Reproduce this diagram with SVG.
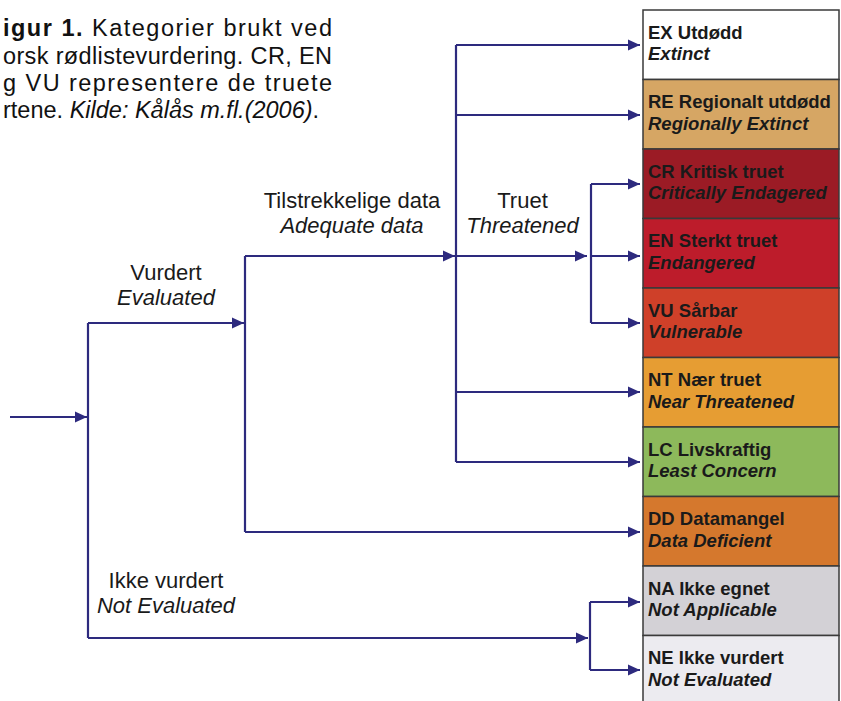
<svg xmlns="http://www.w3.org/2000/svg" width="841" height="701" viewBox="0 0 841 701">
<style>
.cap{font-family:"Liberation Sans",Arial,sans-serif;font-size:23.5px;fill:#111}
.lbl{font-family:"Liberation Sans",Arial,sans-serif;font-size:22px;fill:#1a1a1a;text-anchor:middle}
.it{font-style:italic}
.box{stroke:#3a3a3a;stroke-width:1.5}
.bt{font-family:"Liberation Sans",Arial,sans-serif;font-size:18.5px;font-weight:bold;fill:#1a1a1a}
.bi{font-style:italic}
.c{fill:none;stroke:#2d2a7e;stroke-width:2.2;marker-end:url(#ah)}
.l{fill:none;stroke:#2d2a7e;stroke-width:2.2}
</style>
<defs>
<marker id="ah" markerUnits="userSpaceOnUse" markerWidth="14" markerHeight="12" refX="12" refY="6" orient="auto">
<path d="M0,0.5 L12,6 L0,11.5 Z" fill="#2d2a7e"/>
</marker>
</defs>
<rect width="841" height="701" fill="#ffffff"/>
<g id="caption">
<text class="cap" x="3" y="36" textLength="329" lengthAdjust="spacing"><tspan font-weight="bold">igur 1.</tspan> Kategorier brukt ved</text>
<text class="cap" x="3" y="63.5" textLength="329" lengthAdjust="spacing">orsk rødlistevurdering. CR, EN</text>
<text class="cap" x="3" y="91" textLength="329" lengthAdjust="spacing">g VU representere de truete</text>
<text class="cap" x="3" y="118">rtene. <tspan class="it">Kilde: Kålås m.fl.(2006)</tspan>.</text>
</g>
<g id="connectors">
<path class="c" d="M10,417 H87"/>
<path class="l" d="M88,323 V638"/>
<path class="c" d="M88,323 H244"/>
<path class="c" d="M88,638 H588"/>
<path class="l" d="M245,256 V532"/>
<path class="c" d="M245,256 H455"/>
<path class="c" d="M245,532 H640"/>
<path class="l" d="M456,45 V462"/>
<path class="c" d="M456,45 H640"/>
<path class="c" d="M456,115 H640"/>
<path class="c" d="M456,256 H587"/>
<path class="c" d="M456,392 H640"/>
<path class="c" d="M456,462 H640"/>
<path class="l" d="M591,184 V323"/>
<path class="c" d="M591,184 H640"/>
<path class="c" d="M591,256 H640"/>
<path class="c" d="M591,323 H640"/>
<path class="l" d="M590,602 V670"/>
<path class="c" d="M590,602 H640"/>
<path class="c" d="M590,670 H640"/>
</g>
<g id="labels">
<text class="lbl" x="166" y="280">Vurdert</text>
<text class="lbl it" x="166" y="305">Evaluated</text>
<text class="lbl" x="352" y="207.5">Tilstrekkelige data</text>
<text class="lbl it" x="352" y="233">Adequate data</text>
<text class="lbl" x="522.5" y="208">Truet</text>
<text class="lbl it" x="522.5" y="233">Threatened</text>
<text class="lbl" x="166" y="588">Ikke vurdert</text>
<text class="lbl it" x="166" y="613">Not Evaluated</text>
</g>
<g id="EX">
<rect class="box" x="643" y="10" width="196" height="69.5" fill="#ffffff"/>
<text class="bt" x="648" y="38.5">EX Utdødd</text>
<text class="bt bi" x="648" y="60">Extinct</text>
</g>
<g id="RE">
<rect class="box" x="643" y="79.5" width="196" height="69.5" fill="#d6a664"/>
<text class="bt" x="648" y="108">RE Regionalt utdødd</text>
<text class="bt bi" x="648" y="129.5">Regionally Extinct</text>
</g>
<g id="CR">
<rect class="box" x="643" y="149" width="196" height="69.5" fill="#9b1b25"/>
<text class="bt" x="648" y="177.5">CR Kritisk truet</text>
<text class="bt bi" x="648" y="199">Critically Endagered</text>
</g>
<g id="EN">
<rect class="box" x="643" y="218.5" width="196" height="69.5" fill="#bd1c2b"/>
<text class="bt" x="648" y="247">EN Sterkt truet</text>
<text class="bt bi" x="648" y="268.5">Endangered</text>
</g>
<g id="VU">
<rect class="box" x="643" y="288" width="196" height="69.5" fill="#cf4029"/>
<text class="bt" x="648" y="316.5">VU Sårbar</text>
<text class="bt bi" x="648" y="338">Vulnerable</text>
</g>
<g id="NT">
<rect class="box" x="643" y="357.5" width="196" height="69.5" fill="#e69d33"/>
<text class="bt" x="648" y="386">NT Nær truet</text>
<text class="bt bi" x="648" y="407.5">Near Threatened</text>
</g>
<g id="LC">
<rect class="box" x="643" y="427" width="196" height="69.5" fill="#8db95b"/>
<text class="bt" x="648" y="455.5">LC Livskraftig</text>
<text class="bt bi" x="648" y="477">Least Concern</text>
</g>
<g id="DD">
<rect class="box" x="643" y="496.5" width="196" height="69.5" fill="#d5782d"/>
<text class="bt" x="648" y="525">DD Datamangel</text>
<text class="bt bi" x="648" y="546.5">Data Deficient</text>
</g>
<g id="NA">
<rect class="box" x="643" y="566" width="196" height="69.5" fill="#d3d1d6"/>
<text class="bt" x="648" y="594.5">NA Ikke egnet</text>
<text class="bt bi" x="648" y="616">Not Applicable</text>
</g>
<g id="NE">
<rect class="box" x="643" y="635.5" width="196" height="69.5" fill="#ecebf0"/>
<text class="bt" x="648" y="664">NE Ikke vurdert</text>
<text class="bt bi" x="648" y="685.5">Not Evaluated</text>
</g>
</svg>
